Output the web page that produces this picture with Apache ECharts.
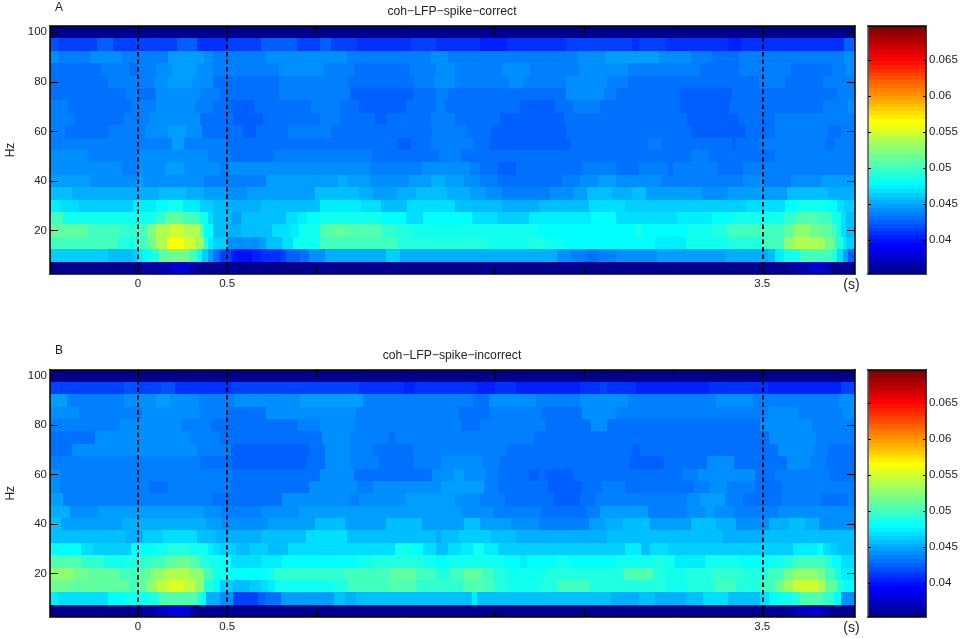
<!DOCTYPE html>
<html><head><meta charset="utf-8">
<style>html,body{margin:0;background:#fff}#c{width:966px;height:638px}</style>
<script src="https://cdn.jsdelivr.net/npm/echarts@6/dist/echarts.min.js"></script>
</head><body><div id="c"></div>
<script>
// Each row: flat list of (run end time in s, coherence x 1000), from the left edge of the plot.
const c100=[4.02,35.6];
const c95=[-.45,41.9,-.23,41.6,-.14,42.0,.22,41.5,.33,42.0,.50,41.1,.69,41.3,.89,42.0,1.02,41.6,1.08,42.0,1.23,41.3,1.53,40.8,1.67,41.3,1.92,40.8,2.07,40.3,2.40,40.8,2.62,41.3,2.77,41.6,2.81,40.9,2.96,41.6,3.31,40.8,3.38,40.3,3.53,40.8,3.96,40.9,4.02,42.0];
const c90=[-.45,44.0,-.27,43.1,-.09,43.8,0,43.1,.09,43.5,.17,43.1,.37,44.2,.42,43.6,.72,43.1,1.17,43.8,1.64,43.5,1.74,44.0,2.46,43.5,2.62,44.0,2.74,44.3,2.92,44.1,3.10,43.6,3.22,43.3,3.37,43.0,3.96,43.3,4.02,43.8];
const c85=[-.21,43.0,-.05,43.5,0,43.0,.10,43.5,.19,44.0,.33,44.5,.42,44.0,.79,43.1,1.04,43.6,1.21,43.1,1.52,42.6,1.67,43.1,1.78,43.8,2.04,43.3,2.20,43.8,2.47,43.3,2.75,43.8,3.04,43.5,3.15,43.1,3.37,42.6,3.49,43.1,3.66,43.3,3.89,42.6,3.97,43.1,4.02,43.6];
const c80=[-.17,42.6,0,43.3,.09,43.1,.17,43.6,.30,44.5,.42,43.8,.59,43.0,.66,42.5,.79,43.0,1.02,43.5,1.17,43.1,1.55,42.5,1.66,43.1,1.78,43.6,2.08,43.1,2.16,43.8,2.40,43.1,2.63,43.6,2.75,43.1,3.09,42.8,3.36,42.5,3.48,43.0,3.63,43.1,3.84,42.5,4.02,43.1];
const c75=[-.07,42.6,0,43.1,.10,43.0,.35,43.6,.46,43.1,.59,42.8,.62,42.5,.79,43.0,1.02,43.5,1.19,43.1,1.54,42.3,1.67,43.0,1.74,43.5,2.40,43.0,2.61,43.6,2.68,43.1,3.04,42.6,3.33,42.3,3.45,43.0,3.92,43.0,4.02,43.3];
const c70=[-.39,43.1,-.04,42.5,.10,43.1,.32,43.8,.42,43.1,.52,42.6,.65,42.1,.97,42.5,1.13,43.1,1.24,42.8,1.50,42.3,1.67,43.0,1.72,43.5,2.14,43.0,2.34,42.3,2.44,42.8,2.59,43.5,2.68,42.8,3.04,42.5,3.32,42.3,3.46,42.8,3.84,42.6,3.98,43.5,4.02,43.8];
const c65=[-.44,43.5,-.36,43.1,-.08,42.5,.06,43.1,.35,43.6,.43,43.0,.53,42.6,.70,42.1,1.02,42.6,1.13,43.3,1.33,42.8,1.39,42.3,1.64,43.0,1.78,43.5,2.03,43.0,2.39,42.3,2.70,43.0,3.08,42.8,3.37,42.3,3.57,42.8,4.02,43.5];
const c60=[-.41,43.5,-.32,43.0,-.16,42.5,.04,43.1,.17,43.6,.27,44.5,.36,43.6,.52,43.0,.59,42.6,.66,42.1,.84,42.6,1.08,43.3,1.65,42.6,1.84,43.3,1.98,42.8,2.40,42.3,2.72,43.0,2.96,42.6,3.10,42.8,3.41,42.3,3.57,42.8,3.87,43.3,3.94,42.6,4.02,43.1];
const c55=[-.38,43.5,.01,43.1,.19,43.5,.26,44.2,.38,43.5,.50,43.1,.83,42.6,1.10,43.0,1.45,42.6,1.53,42.1,1.64,42.6,1.88,43.1,1.97,42.8,2.42,42.3,2.68,43.0,2.86,42.8,2.93,43.1,3.33,42.6,3.35,42.3,3.48,42.6,3.57,43.1,3.85,43.3,3.91,42.6,4.02,43.1];
const c50=[-.28,43.6,-.21,43.1,0,43.5,.39,43.8,.52,43.3,.76,42.8,1.31,43.3,1.60,42.6,1.69,43.0,1.81,43.5,1.91,43.0,2.21,42.5,2.30,43.0,2.39,42.5,2.71,43.0,3.10,42.6,3.20,43.1,3.46,42.6,3.57,43.0,4.02,43.3];
const c45=[-.09,43.8,0,43.1,.15,43.6,.26,44.2,.46,43.6,.51,43.1,1.30,43.8,1.59,43.1,1.86,43.6,1.92,43.3,2.02,42.8,2.12,42.3,2.49,43.0,2.68,43.5,2.81,43.0,2.97,43.3,3.00,43.0,3.25,43.3,3.39,42.8,4.02,43.5];
const c40=[-.27,44.3,0,43.6,.03,44.2,.37,44.0,.50,43.3,.72,43.5,1.12,44.2,1.17,45.0,1.30,44.3,1.52,43.8,1.64,44.3,1.72,45.0,1.83,44.5,1.92,43.8,2.01,43.3,2.38,42.8,2.48,43.3,2.58,43.8,2.68,44.5,2.79,44.0,2.93,43.6,3.39,43.3,3.51,43.6,3.66,43.3,3.83,43.8,4.02,44.2];
const c35=[-.37,45.5,.12,44.7,.27,45.5,.37,45.0,.50,44.3,.61,43.8,.74,44.5,.99,44.2,1.24,45.6,1.32,45.0,1.45,44.3,1.56,44.8,1.73,45.5,1.86,45.0,1.95,44.5,2.04,43.8,2.31,43.3,2.44,43.8,2.52,44.5,2.62,45.2,2.66,45.5,2.77,44.8,2.85,45.3,3.16,44.3,3.31,43.8,3.40,44.3,3.64,44.5,3.73,45.3,3.87,46.0,4.02,45.0];
const c30=[-.44,47.2,-.33,46.7,-.19,46.3,-.03,46.1,.10,47.2,.16,47.7,.25,48.2,.35,47.5,.42,46.2,.50,45.3,.69,44.7,.79,45.2,.91,46.0,1.02,45.5,1.25,47.4,1.36,46.7,1.51,46.0,1.78,46.7,1.92,46.0,2.04,45.3,2.25,44.7,2.44,45.3,2.53,46.0,2.73,46.7,2.81,46.2,3.31,45.7,3.41,46.2,3.63,46.9,3.70,47.7,3.87,48.2,3.92,47.7,3.96,46.7,4.02,45.7];
const c25=[-.42,50.2,.10,48.7,.15,49.5,.25,51.2,.35,50.2,.39,48.2,.42,47.0,.52,45.3,.58,44.5,.72,45.3,.83,46.0,.89,46.7,.95,47.4,1.02,48.0,1.30,48.7,1.37,48.2,1.50,47.7,1.60,46.9,1.87,47.7,2.01,47.0,2.19,46.3,2.54,47.2,2.68,47.9,3.02,46.7,3.22,47.2,3.33,47.7,3.62,48.4,3.69,49.5,3.81,50.6,3.89,49.9,3.94,48.5,3.97,47.0,4.02,46.0];
const c20=[-.38,51.2,-.28,50.9,-.10,50.2,0,49.5,.05,50.2,.10,52.2,.18,53.6,.26,54.9,.35,53.9,.37,51.2,.42,47.7,.51,45.2,.58,44.7,.67,45.3,.75,46.0,.85,46.8,.90,47.5,1.02,48.5,1.09,50.6,1.19,51.2,1.37,50.6,1.44,49.7,1.54,48.9,1.63,48.2,1.95,48.5,2.24,48.2,2.79,48.0,2.82,48.9,3.08,47.9,3.22,48.4,3.30,49.2,3.62,49.9,3.68,51.2,3.77,52.6,3.83,51.9,3.89,50.9,3.92,50.2,3.94,48.5,3.97,47.0,4.02,45.3];
const c15=[-.11,50.2,0,49.2,.05,49.9,.10,51.6,.16,53.9,.26,56.3,.32,54.9,.37,53.3,.39,49.5,.42,47.5,.50,45.7,.62,44.0,.68,43.6,.72,44.3,.76,45.2,.81,46.0,.87,47.0,1.02,48.4,1.04,50.2,1.46,49.9,1.96,49.0,2.19,48.2,2.29,49.0,2.39,48.2,2.90,47.9,3.07,47.2,3.24,48.4,3.31,48.3,3.50,49.0,3.62,50.2,3.68,52.6,3.81,53.9,3.85,53.3,3.91,51.9,3.95,49.2,3.97,47.4,4.02,46.3];
const c10=[-.17,45.8,-.03,45.3,0,46.3,.03,47.2,.07,48.0,.12,48.9,.18,50.9,.29,51.9,.33,49.9,.36,48.0,.39,46.3,.42,44.3,.46,42.6,.52,41.6,.54,40.6,.64,39.9,.69,40.4,.75,40.8,.80,41.1,.83,41.5,.91,42.0,.96,43.0,1.02,44.0,1.05,43.8,1.24,44.7,1.39,45.0,1.47,45.7,1.91,45.0,2.35,44.7,2.43,43.8,2.52,43.1,2.58,42.5,2.68,43.1,2.91,43.8,3.29,44.2,3.40,44.7,3.53,44.8,3.57,46.0,3.62,47.5,3.71,48.5,3.89,49.9,3.92,49.2,3.95,47.0,3.98,44.3,4.02,42.0];
const c5=[0,35.6,.12,36.0,.18,36.9,.29,37.9,.33,36.9,3.64,35.6,3.70,36.0,3.76,36.9,3.85,37.7,3.89,36.7,4.02,35.7];

const i100=[4.02,35.6];
const i95=[-.08,41.5,0,41.8,.13,41.5,.21,41.8,.34,41.1,.52,40.8,1.24,41.3,1.49,41.1,1.55,40.4,1.90,40.9,2.00,40.4,2.12,40.9,2.48,40.6,2.59,40.9,2.63,41.3,2.79,40.8,2.81,40.3,3.20,40.6,3.53,41.1,3.94,40.6,4.02,41.3];
const i90=[-.40,44.2,-.08,43.5,.10,43.8,.18,44.3,.34,43.8,.54,43.1,.91,43.8,1.26,44.2,1.88,43.5,1.97,43.0,2.23,43.6,2.48,43.1,2.75,43.8,3.24,43.3,3.45,43.8,3.53,43.2,3.93,43.3,4.02,44.0];
const i85=[-.33,44.0,-.14,43.1,.02,43.5,.17,44.0,.35,43.6,.50,43.1,.72,42.8,1.02,43.6,1.22,44.0,1.80,43.3,1.97,42.8,2.26,43.5,2.49,43.0,2.68,43.8,3.53,43.1,3.70,43.8,3.95,43.3,4.02,43.8];
const i80=[-.10,43.1,.24,43.8,.41,43.3,.89,42.6,1.02,43.1,1.21,43.8,1.81,43.1,1.92,42.6,2.28,43.5,2.54,43.0,2.63,43.6,3.49,43.0,3.78,43.6,4.02,43.1];
const i75=[-.24,43.0,.29,43.7,.46,43.3,.94,42.5,1.03,43.0,1.19,43.8,1.41,43.1,1.44,42.6,2.22,43.1,2.97,42.6,3.54,42.8,3.80,43.6,4.02,43.1];
const i70=[-.37,42.6,.33,43.6,.52,43.1,.96,42.3,1.05,42.8,1.19,43.8,1.32,43.1,1.54,42.5,2.07,43.1,2.77,42.6,2.81,42.1,3.09,42.5,3.59,42.8,3.79,43.6,3.87,43.1,4.02,42.5];
const i65=[-.42,43.1,.35,43.5,.52,43.0,.95,42.3,1.05,42.8,1.19,43.8,1.35,43.1,1.55,42.5,1.70,43.1,1.93,43.8,2.03,43.1,2.76,42.6,2.90,42.3,2.95,42.0,3.08,42.5,3.19,43.0,3.34,43.6,3.64,43.0,3.77,43.6,3.86,43.1,4.02,42.5];
const i60=[-.44,43.8,.35,43.5,.52,43.1,.90,42.5,1.02,43.0,1.21,43.8,1.65,43.0,1.77,43.6,1.83,44.2,1.95,43.8,2.02,43.1,2.19,42.5,2.25,42.0,2.28,42.5,2.44,42.1,3.05,42.6,3.14,43.1,3.46,43.6,3.57,42.5,3.71,43.3,3.88,43.5,4.02,42.6];
const i55=[-.44,44.0,.06,43.5,.17,42.8,.37,43.5,.52,43.1,.69,42.5,.96,43.0,1.23,43.7,1.32,43.1,1.70,43.6,1.94,44.2,2.02,43.5,2.30,43.0,2.49,42.3,2.60,42.8,2.73,43.5,3.04,42.8,3.11,43.0,3.20,43.5,3.30,44.0,3.46,43.3,3.54,42.6,3.61,43.0,4.02,43.3];
const i50=[-.42,44.2,.42,43.5,.81,43.0,1.19,43.7,1.24,43.1,1.50,43.6,1.78,44.2,1.92,43.6,2.06,43.1,2.33,42.8,2.48,42.3,2.56,43.0,3.08,43.3,3.15,43.6,3.29,44.2,3.39,43.5,3.61,43.0,3.83,43.5,3.98,43.0,4.02,43.5];
const i45=[-.38,44.7,-.22,43.8,.37,44.3,.47,43.6,.69,43.5,.90,43.8,1.08,44.3,1.38,44.2,1.81,44.5,1.99,43.8,2.26,43.5,2.52,43.0,2.59,43.5,2.86,44.2,3.07,43.5,3.18,44.0,3.23,44.5,3.34,44.0,3.59,43.5,3.81,43.8,4.02,43.6];
const i40=[-.43,45.3,-.09,44.2,.38,44.7,.47,44.2,.73,43.8,.88,44.2,.99,44.5,1.05,45.3,1.16,45.2,1.39,44.5,1.59,45.2,1.83,44.5,1.92,45.2,2.09,44.5,2.25,43.8,2.53,43.5,2.62,44.2,2.72,44.7,2.87,45.2,3.10,44.5,3.24,45.2,3.35,44.7,3.54,43.8,3.65,44.7,3.74,45.2,3.82,44.7,4.02,44.0];
const i35=[-.32,46.0,-.07,45.2,.03,45.0,.14,45.8,.33,46.7,.39,46.0,.44,45.2,.69,44.7,.83,45.2,.94,46.0,1.17,46.6,1.24,46.0,1.36,45.3,1.59,46.0,1.67,45.3,1.70,44.8,1.80,45.3,1.88,45.8,1.98,46.5,2.07,46.0,2.12,45.5,2.63,44.7,2.72,45.5,2.81,46.0,3.28,45.5,3.41,45.0,3.50,44.7,3.55,45.5,3.67,45.2,3.81,45.5,4.02,45.2];
const i30=[-.32,47.7,-.25,47.0,-.04,46.2,.01,47.9,.09,47.7,.16,48.2,.29,49.2,.35,48.5,.39,48.2,.42,47.4,.46,46.7,.55,46.2,.63,45.2,.73,45.8,.84,45.3,1.44,47.1,1.53,48.2,1.60,47.7,1.67,47.0,1.74,46.0,1.81,46.9,1.88,47.5,1.94,48.2,2.02,47.5,2.10,46.5,2.67,45.7,2.73,46.5,2.82,47.5,2.87,46.0,2.97,47.0,3.39,46.2,3.55,45.8,3.67,46.5,3.81,47.2,3.84,47.7,3.88,47.0,3.92,46.2,4.02,45.3];
const i25=[-.32,50.6,-.19,49.5,-.07,48.4,0,48.9,.07,49.5,.15,50.2,.22,50.9,.29,51.6,.35,50.6,.41,49.2,.47,48.4,.52,47.7,.69,47.0,.81,47.5,1.22,48.1,1.31,48.7,1.60,49.0,1.67,48.4,1.73,47.9,1.82,48.2,1.97,48.7,2.05,48.2,2.14,47.9,2.18,47.2,2.34,47.7,2.42,48.2,2.68,47.7,2.90,48.5,2.95,48.9,3.01,48.4,3.10,47.5,3.18,47.2,3.38,48.2,3.54,48.0,3.62,48.4,3.67,48.9,3.85,50.2,3.89,49.2,3.94,47.9,4.02,46.7];
const i20=[-.36,52.9,-.28,51.9,-.10,50.9,0,50.2,.07,50.9,.14,52.6,.29,54.1,.37,52.6,.42,49.9,.52,48.2,.71,47.7,.76,48.4,.81,49.5,1.15,49.4,1.41,50.2,1.56,50.9,1.67,49.9,1.75,49.2,1.83,50.1,1.93,50.9,1.99,49.9,2.06,49.2,2.29,48.7,2.72,49.2,2.89,50.4,2.96,49.2,3.06,48.4,3.21,49.0,3.38,49.5,3.53,49.2,3.62,49.9,3.67,51.6,3.81,52.9,3.85,51.6,3.91,50.2,3.94,48.5,4.02,47.4];
const i15=[-.39,51.9,-.05,51.2,0,49.9,.05,51.2,.10,52.6,.16,54.3,.25,55.3,.32,54.3,.37,52.6,.42,49.2,.46,47.7,.53,46.5,.63,45.5,.69,46.2,.73,46.9,.77,47.5,.81,48.2,1.10,48.4,1.17,49.2,1.40,49.9,1.56,50.7,1.82,49.7,1.94,50.7,2.00,50.1,2.08,49.2,2.25,48.2,2.35,48.9,2.53,49.9,2.96,49.0,3.08,48.2,3.23,49.0,3.35,49.9,3.49,49.2,3.57,50.2,3.62,51.6,3.67,53.3,3.81,54.9,3.85,53.9,3.92,51.2,3.96,49.2,4.02,47.7];
const i10=[-.45,47.2,-.17,46.9,-.07,47.7,0,48.2,.06,48.5,.12,49.2,.33,50.6,.36,49.2,.38,47.7,.46,45.0,.53,43.6,.67,41.5,.71,42.0,.80,43.0,1.10,44.2,1.16,45.3,1.22,44.7,1.66,46.0,1.72,45.3,1.87,46.0,1.90,47.2,2.02,46.0,2.30,45.3,2.54,46.0,2.65,45.5,2.81,44.7,2.90,45.5,3.07,44.7,3.11,45.3,3.17,46.0,3.31,46.7,3.39,46.0,3.49,45.5,3.54,46.7,3.58,47.7,3.66,48.4,3.71,49.2,3.84,50.6,3.90,49.5,3.94,47.7,4.02,44.0];
const i5=[0,35.6,.10,36.0,.16,37.1,.29,38.2,.32,36.9,3.64,35.6,3.69,36.0,3.77,37.1,3.83,37.9,3.88,36.7,4.02,35.7];

const hzRows=[100,95,90,85,80,75,70,65,60,55,50,45,40,35,30,25,20,15,10,5];
const correctRows=[c100,c95,c90,c85,c80,c75,c70,c65,c60,c55,c50,c45,c40,c35,c30,c25,c20,c15,c10,c5];
const incorrectRows=[i100,i95,i90,i85,i80,i75,i70,i65,i60,i55,i50,i45,i40,i35,i30,i25,i20,i15,i10,i5];
const hzTicks=[20,40,60,80,100];
const timeTicks=[0,.5,1,1.5,2,2.5,3,3.5];
const timeLabels={0:'0',0.5:'0.5',3.5:'3.5',4:'{s|(s)}'};
const epochLines=[0,.5,3.5];
const colorTicks=[.04,.045,.05,.055,.06,.065];
const titles=['coh\u2212LFP\u2212spike\u2212correct','coh\u2212LFP\u2212spike\u2212incorrect'];
const cMin=.0353,cMax=.0697,tMin=-.4935,tMax=4.02,hzMin=2.5,hzMax=102.5;
// Eye readings of the mid blues came out slightly low against the colour bar.
const blueReadingBias=.35;

function jet(v){
  const lvl=Math.max(0,Math.min(63,Math.floor((v-cMin)/(cMax-cMin)*64)));
  const t=(lvl+1)/64;
  const ch=x=>Math.round(255*Math.max(0,Math.min(1,x)));
  return 'rgb('+ch(Math.min(4*t-1.5,-4*t+4.5))+','+ch(Math.min(4*t-.5,-4*t+3.5))+','+ch(Math.min(4*t+.5,-4*t+2.5))+')';
}
function cells(rows){
  const out=[];
  rows.forEach((r,k)=>{let t0=tMin;
    for(let i=0;i<r.length;i+=2){
      const read=r[i+1],v=(read>=42&&read<46)?read+blueReadingBias:read;
      out.push([t0,r[i],hzRows[k],v/1000]);t0=r[i];}
  });
  return out;
}
function renderCell(p,api){
  const a=api.coord([api.value(0),api.value(2)+2.5]);
  const b=api.coord([api.value(1),api.value(2)-2.5]);
  const x=Math.round(a[0]),y=Math.round(a[1]);
  return {type:'rect',shape:{x:x,y:y,width:Math.round(b[0])-x,height:Math.round(b[1])-y},
    style:{fill:jet(api.value(3))}};
}
function renderBar(p,api){
  const a=api.coord([0,api.value(1)]),b=api.coord([1,api.value(0)]);
  const y=Math.round(a[1]);
  return {type:'rect',shape:{x:a[0],y:y,width:b[0]-a[0],height:Math.round(b[1])-y},
    style:{fill:jet((api.value(0)+api.value(1))/2)}};
}
const txt={fontFamily:'Liberation Sans',color:'#222'};
const line={show:true,lineStyle:{color:'#000',width:1.5},onZero:false};
const grids=[],xAxes=[],yAxes=[],series=[],titleList=[];
const panels=[{rows:correctRows,top:26,h:248,title:titles[0],letter:'A',ly:2,ty:6},
              {rows:incorrectRows,top:369.5,h:247.5,title:titles[1],letter:'B',ly:345,ty:350}];
panels.forEach((P,n)=>{
  const g=n*2;
  grids.push({left:50,top:P.top,width:805,height:P.h,outerBoundsMode:'none'},{left:868,top:P.top,width:58,height:P.h,outerBoundsMode:'none'});
  const xa=(opts)=>Object.assign({type:'value',min:tMin,max:tMax,gridIndex:g,z:5,splitLine:{show:false},axisLine:line,
    axisTick:{show:true,inside:true,length:7,customValues:timeTicks,lineStyle:{color:'#000',width:1}}},opts);
  const ya=(opts)=>Object.assign({type:'value',min:hzMin,max:hzMax,gridIndex:g,z:5,splitLine:{show:false},axisLine:line,
    axisTick:{show:true,inside:true,length:8,customValues:hzTicks,lineStyle:{color:'#000',width:1}}},opts);
  const xBase=xAxes.length,yBase=yAxes.length;
  xAxes.push(
    xa({position:'bottom',axisLabel:{show:true,...txt,fontSize:11.5,margin:4,customValues:[0,.5,3.5,4],
      formatter:v=>timeLabels[v],rich:{s:{fontSize:14,fontFamily:'Liberation Sans',color:'#222'}}}}),
    xa({position:'top',axisLabel:{show:false}}),
    {type:'value',min:0,max:1,gridIndex:g+1,position:'bottom',z:5,axisLine:line,axisTick:{show:false},axisLabel:{show:false},splitLine:{show:false}},
    {type:'value',min:0,max:1,gridIndex:g+1,position:'top',z:5,axisLine:line,axisTick:{show:false},axisLabel:{show:false},splitLine:{show:false}});
  yAxes.push(
    ya({position:'left',name:'Hz',nameLocation:'middle',nameGap:22,nameTextStyle:{...txt,fontSize:12},
      axisLabel:{show:true,...txt,fontSize:11.5,margin:3,customValues:hzTicks}}),
    ya({position:'right',axisLabel:{show:false}}),
    {type:'value',min:cMin,max:cMax,gridIndex:g+1,position:'left',z:5,splitLine:{show:false},axisLine:{show:true,lineStyle:{color:'#555',width:1.5},onZero:false},
      axisTick:{show:true,inside:true,length:3,customValues:colorTicks,lineStyle:{color:'#000'}},axisLabel:{show:false}},
    {type:'value',min:cMin,max:cMax,gridIndex:g+1,position:'right',z:5,splitLine:{show:false},axisLine:line,
      axisTick:{show:true,inside:true,length:3,customValues:colorTicks,lineStyle:{color:'#000'}},
      axisLabel:{show:true,...txt,fontSize:11.5,margin:3,customValues:colorTicks,formatter:v=>String(+v.toFixed(3))}});
  series.push({type:'custom',xAxisIndex:xBase,yAxisIndex:yBase,renderItem:renderCell,silent:true,
    encode:{x:[0,1],y:2},data:cells(P.rows),clip:true,z:2,
    markLine:{silent:true,symbol:'none',label:{show:false},animation:false,z:4,
      lineStyle:{color:'#000',type:[4.5,3],width:1.8},data:epochLines.map(t=>({xAxis:t}))}});
  const levels=[];
  for(let i=0;i<64;i++)levels.push([cMin+(cMax-cMin)*i/64,cMin+(cMax-cMin)*(i+1)/64]);
  series.push({type:'custom',xAxisIndex:xBase+2,yAxisIndex:yBase+2,renderItem:renderBar,silent:true,
    encode:{y:[0,1]},data:levels,z:2});
  titleList.push({text:P.title,left:452,top:P.ty,padding:0,textAlign:'center',textStyle:{...txt,fontSize:12.2,fontWeight:'normal'}},
    {text:P.letter,left:59,top:P.ly,padding:0,textAlign:'center',textStyle:{...txt,fontSize:12,fontWeight:'normal'}});
});
const chart=echarts.init(document.getElementById('c'),null,{renderer:'canvas'});
chart.setOption({animation:false,backgroundColor:'#fff',title:titleList,grid:grids,xAxis:xAxes,yAxis:yAxes,series:series});
</script></body></html>
